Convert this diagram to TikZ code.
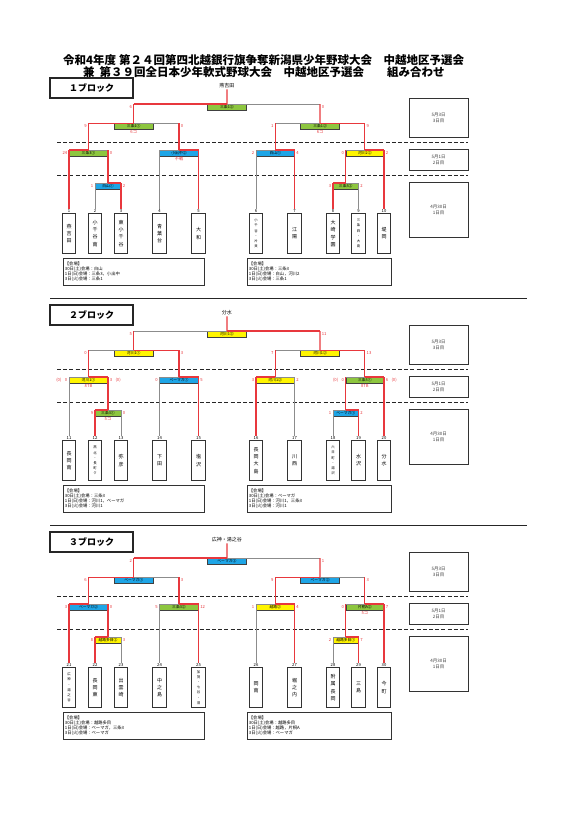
\documentclass[tikz,border=0pt]{standalone}
\usepackage{fontspec}
\setmainfont{Noto Sans CJK JP}
\definecolor{wred}{HTML}{E8383D}
\definecolor{lgray}{HTML}{8C8C8C}
\definecolor{gfill}{HTML}{8DC63F}
\definecolor{bfill}{HTML}{1EA5E6}
\definecolor{yfill}{HTML}{FFF500}
\tikzset{
 win/.style={draw=wred,line width=1.2pt},
 lose/.style={draw=lgray,line width=0.9pt},
 lbl/.style={draw=black!75,line width=0.35pt,inner sep=0pt,minimum height=5.6pt,font=\fontsize{3.8}{4}\selectfont},
 score/.style={text=wred,inner sep=0pt,font=\fontsize{4.2}{4.5}\selectfont},
 teambox/.style={draw=black!80,line width=0.8pt,minimum width=13.5pt,minimum height=40pt,inner sep=0pt,align=center,font=\fontsize{5}{7.2}\selectfont},
 teamsmall/.style={teambox,font=\fontsize{3.4}{5.2}\selectfont},
 num/.style={inner sep=0.3pt,font=\fontsize{4.2}{4.5}\selectfont},
 hdr/.style={draw=black!85,line width=1.1pt,minimum width=83pt,minimum height=20pt,inner sep=0pt,font=\bfseries\fontsize{9}{10}\selectfont},
 dashline/.style={draw=black!85,line width=1.1pt,dash pattern=on 4pt off 2.2pt},
 daybox/.style={draw=black!80,line width=0.8pt,minimum width=59pt,inner sep=0pt,align=center,text=black!75,font=\fontsize{4.5}{5.8}\selectfont},
 venue/.style={draw=black!80,line width=0.8pt,anchor=north west,minimum height=27pt,inner sep=1.5pt,align=left,font=\fontsize{4.3}{5}\selectfont},
 winnm/.style={inner sep=0.8pt,font=\fontsize{5}{6}\selectfont},
 titl/.style={inner sep=0pt,anchor=west,font=\bfseries\fontsize{11.5}{12}\selectfont},
 sepline/.style={draw=black!85,line width=1pt}
}
\newcommand{\tm}[5]{%
  \node[#5] (#1) at (#2,233.5) {#4};
  \node[num,anchor=south] (#1n) at (#2,213.2) {#3};}
\newcommand{\mt}[9]{%
  \node[lbl,fill=#8,minimum width=#9,anchor=north] (#1b) at ({(#2+#3)/2},#4) {#7};
  \coordinate (#1l) at (#2,#4);
  \coordinate (#1r) at (#3,#4);
  \coordinate (#1c) at ({(#2+#3)/2},#4);
  \draw[#5] (#1l) -- (#1c);
  \draw[#6] (#1c) -- (#1r);}
\newcommand{\scr}[3]{%
  \node[score,anchor=east] (#1sl) at ([xshift=-1.6pt,yshift=-2.9pt]#1l) {#2};
  \node[score,anchor=west] (#1sr) at ([xshift=1.6pt,yshift=-2.9pt]#1r) {#3};}
\newcommand{\pts}[1]{%
  \node[score,anchor=east] (#1pl) at ([xshift=-3pt]#1sl.west) {(0)};
  \node[score,anchor=west] (#1pr) at ([xshift=3pt]#1sr.east) {(0)};}
\newcommand{\nt}[2]{\node[score] (#1nt) at ([yshift=-9.2pt]#1c) {#2};}
\newcommand{\frm}[2]{%
  \node[hdr] (#1hdr) at (91.5,88) {#2};
  \coordinate (#1da) at (57,142.5); \coordinate (#1db) at (468,142.5);
  \coordinate (#1dc) at (57,175.5); \coordinate (#1dd) at (468,175.5);
  \draw[dashline] (#1da) -- (#1db);
  \draw[dashline] (#1dc) -- (#1dd);
  \node[daybox,minimum height=39pt] (#1dy3) at (438.5,117.5) {5月3日\\3日目};
  \node[daybox,minimum height=21pt] (#1dy2) at (438.5,159.5) {5月1日\\2日目};
  \node[daybox,minimum height=55pt] (#1dy1) at (438.5,209.5) {4月30日\\1日目};}
\begin{document}
\begin{tikzpicture}[x=1pt,y=-1pt]
\fill[white] (0,0) rectangle (579,819);
\path[use as bounding box] (0,0) rectangle (579,819);
\node[titl] (ttl1) at (63,60) {令和4年度\hspace{3pt}第２４回第四北越銀行旗争奪新潟県少年野球大会　中越地区予選会};
\node[titl] (ttl2) at (83,72) {兼\hspace{5pt}第３９回全日本少年軟式野球大会　中越地区予選会　　組み合わせ};
\coordinate (s1a) at (50,298); \coordinate (s1b) at (527,298);
\coordinate (s2a) at (50,525); \coordinate (s2b) at (527,525);
\draw[sepline] (s1a) -- (s1b);
\draw[sepline] (s2a) -- (s2b);
% ---------------- block 1
\begin{scope}
\frm{A}{１ブロック}
\tm{At1}{69}{1}{燕\\吉\\田}{teambox}
\tm{At2}{95}{2}{小\\千\\谷\\南}{teambox}
\tm{At3}{121}{3}{東\\小\\千\\谷}{teambox}
\tm{At4}{159.5}{4}{青\\葉\\台}{teambox}
\tm{At5}{198.5}{5}{大\\和}{teambox}
\tm{At6}{256}{6}{小\\千\\谷\\・\\片\\貝}{teamsmall}
\tm{At7}{294.5}{7}{江\\陽}{teambox}
\tm{At8}{333}{8}{大\\崎\\学\\園}{teambox}
\tm{At9}{358.5}{9}{三\\条\\四\\・\\大\\島}{teamsmall}
\tm{At10}{384}{10}{堤\\岡}{teambox}
\mt{A1a}{95}{121}{183}{lose}{win}{白山①}{bfill}{26pt}
\mt{A1b}{333}{358.5}{183}{win}{lose}{三条3②}{gfill}{25.5pt}
\mt{A2a}{69}{108}{150}{win}{lose}{三条3①}{gfill}{39pt}
\mt{A2b}{159.5}{198.5}{150}{lose}{win}{小出中②}{bfill}{39pt}
\mt{A2c}{256}{294.5}{150}{lose}{win}{白山①}{bfill}{38.5pt}
\mt{A2d}{345.75}{384}{150}{lose}{win}{河川2②}{yfill}{38.25pt}
\mt{AS1}{88.5}{179}{123.3}{win}{lose}{三条1①}{gfill}{39pt}
\mt{AS2}{275.25}{364.875}{123.3}{lose}{win}{三条1②}{gfill}{39pt}
\mt{AF}{133.75}{320.06}{104}{win}{lose}{三条1③}{gfill}{39pt}
\node[winnm] (Awin) at (226.9,86) {燕吉田};
\draw[lose] (At2n.north) -- (A1al);
\draw[lose] (At9n.north) -- (A1br);
\draw[lose] (At4n.north) -- (A2bl);
\draw[lose] (At6n.north) -- (A2cl);
\draw[win] (At3n.north) -- (A1ar);
\draw[win] (At8n.north) -- (A1bl);
\draw[win] (At1n.north) -- (A2al);
\draw[win] (At5n.north) -- (A2br);
\draw[win] (At7n.north) -- (A2cr);
\draw[win] (At10n.north) -- (A2dr);
\draw[win] (A1ac) -- (A2ar);
\draw[win] (A1bc) -- (A2dl);
\draw[win] (A2ac) -- (AS1l);
\draw[win] (A2bc) -- (AS1r);
\draw[win] (A2cc) -- (AS2l);
\draw[win] (A2dc) -- (AS2r);
\draw[win] (AS1c) -- (AFl);
\draw[win] (AS2c) -- (AFr);
\draw[win] (AFc) -- (Awin.south);
\scr{A1a}{1}{2} \scr{A1b}{3}{2} \scr{A2a}{24}{0} \scr{A2c}{2}{4} \scr{A2d}{0}{2}
\scr{AS1}{9}{0} \scr{AS2}{1}{9} \scr{AF}{6}{0}
\nt{A2b}{不戦} \nt{AS1}{6コ} \nt{AS2}{6コ}
\node[venue,text width=138pt] (Avl) at (63,258) {【会場】\\30日(土)会場：白山\\1日(日)会場：三条3，小出中\\3日(火)会場：三条1};
\node[venue,text width=141pt] (Avr) at (247,258) {【会場】\\30日(土)会場：三条3\\1日(日)会場：白山，河川2\\3日(火)会場：三条1};
\end{scope}
% ---------------- block 2
\begin{scope}[yshift=-227pt]
\frm{B}{２ブロック}
\tm{Bt11}{69}{11}{長\\岡\\南}{teambox}
\tm{Bt12}{95}{12}{燕\\北\\・\\長\\町\\ク}{teamsmall}
\tm{Bt13}{121}{13}{弥\\彦}{teambox}
\tm{Bt14}{159.5}{14}{下\\田}{teambox}
\tm{Bt15}{198.5}{15}{塩\\沢}{teambox}
\tm{Bt16}{256}{16}{長\\岡\\大\\島}{teambox}
\tm{Bt17}{294.5}{17}{川\\西}{teambox}
\tm{Bt18}{333}{18}{六\\日\\町\\・\\湯\\沢}{teamsmall}
\tm{Bt19}{358.5}{19}{水\\沢}{teambox}
\tm{Bt20}{384}{20}{分\\水}{teambox}
\mt{B1a}{95}{121}{183}{win}{lose}{三条3①}{gfill}{26pt}
\mt{B1b}{333}{358.5}{183}{lose}{win}{ベーマガ①}{bfill}{25.5pt}
\mt{B2a}{69}{108}{150}{lose}{win}{河川1①}{yfill}{39pt}
\mt{B2b}{159.5}{198.5}{150}{lose}{win}{ベーマガ①}{bfill}{39pt}
\mt{B2c}{256}{294.5}{150}{win}{lose}{河川1②}{yfill}{38.5pt}
\mt{B2d}{345.75}{384}{150}{lose}{win}{三条3①}{gfill}{38.25pt}
\mt{BS1}{88.5}{179}{123.3}{lose}{win}{河川1①}{yfill}{39pt}
\mt{BS2}{275.25}{364.875}{123.3}{lose}{win}{河川1②}{yfill}{39pt}
\mt{BF}{133.75}{320.06}{104}{lose}{win}{河川1③}{yfill}{39pt}
\node[winnm] (Bwin) at (226.9,86) {分水};
\draw[lose] (Bt11n.north) -- (B2al);
\draw[lose] (Bt13n.north) -- (B1ar);
\draw[lose] (Bt14n.north) -- (B2bl);
\draw[lose] (Bt17n.north) -- (B2cr);
\draw[lose] (Bt18n.north) -- (B1bl);
\draw[win] (Bt12n.north) -- (B1al);
\draw[win] (Bt15n.north) -- (B2br);
\draw[win] (Bt16n.north) -- (B2cl);
\draw[win] (Bt19n.north) -- (B1br);
\draw[win] (Bt20n.north) -- (B2dr);
\draw[win] (B1ac) -- (B2ar);
\draw[win] (B1bc) -- (B2dl);
\draw[win] (B2ac) -- (BS1l);
\draw[win] (B2bc) -- (BS1r);
\draw[win] (B2cc) -- (BS2l);
\draw[win] (B2dc) -- (BS2r);
\draw[win] (BS1c) -- (BFl);
\draw[win] (BS2c) -- (BFr);
\draw[win] (BFc) -- (Bwin.south);
\scr{B1a}{9}{0} \scr{B1b}{1}{2} \scr{B2a}{0}{3} \scr{B2b}{0}{5} \scr{B2c}{3}{2} \scr{B2d}{0}{6}
\pts{B2a} \pts{B2d}
\scr{BS1}{0}{3} \scr{BS2}{7}{13} \scr{BF}{5}{11}
\nt{B1a}{5コ} \nt{B2a}{8TB} \nt{B2d}{8TB}
\node[venue,text width=138pt] (Bvl) at (63,258) {【会場】\\30日(土)会場：三条3\\1日(日)会場：河川1，ベーマガ\\3日(火)会場：河川1};
\node[venue,text width=141pt] (Bvr) at (247,258) {【会場】\\30日(土)会場：ベーマガ\\1日(日)会場：河川1，三条3\\3日(火)会場：河川1};
\end{scope}
% ---------------- block 3
\begin{scope}[yshift=-454pt]
\frm{C}{３ブロック}
\tm{Ct21}{69}{21}{広\\神\\・\\湯\\之\\谷}{teamsmall}
\tm{Ct22}{95}{22}{長\\岡\\東}{teambox}
\tm{Ct23}{121}{23}{出\\雲\\崎}{teambox}
\tm{Ct24}{159.5}{24}{中\\之\\島}{teambox}
\tm{Ct25}{198.5}{25}{加\\茂\\・\\七\\谷\\・\\須}{teamsmall}
\tm{Ct26}{256}{26}{岡\\南}{teambox}
\tm{Ct27}{294.5}{27}{堀\\之\\内}{teambox}
\tm{Ct28}{333}{28}{附\\属\\長\\岡}{teambox}
\tm{Ct29}{358.5}{29}{三\\島}{teambox}
\tm{Ct30}{384}{30}{今\\町}{teambox}
\mt{C1a}{95}{121}{183}{win}{lose}{越路多目②}{yfill}{26pt}
\mt{C1b}{333}{358.5}{183}{lose}{win}{越路多目①}{yfill}{25.5pt}
\mt{C2a}{69}{108}{150}{win}{lose}{ベーマガ②}{bfill}{39pt}
\mt{C2b}{159.5}{198.5}{150}{lose}{win}{三条3②}{gfill}{39pt}
\mt{C2c}{256}{294.5}{150}{lose}{win}{越路②}{yfill}{38.5pt}
\mt{C2d}{345.75}{384}{150}{lose}{win}{片桐A②}{gfill}{38.25pt}
\mt{CS1}{88.5}{179}{123.3}{win}{lose}{ベーマガ①}{bfill}{39pt}
\mt{CS2}{275.25}{364.875}{123.3}{win}{lose}{ベーマガ②}{bfill}{39pt}
\mt{CF}{133.75}{320.06}{104}{win}{lose}{ベーマガ③}{bfill}{39pt}
\node[winnm] (Cwin) at (226.9,86) {広神・湯之谷};
\draw[lose] (Ct23n.north) -- (C1ar);
\draw[lose] (Ct24n.north) -- (C2bl);
\draw[lose] (Ct26n.north) -- (C2cl);
\draw[lose] (Ct28n.north) -- (C1bl);
\draw[win] (Ct21n.north) -- (C2al);
\draw[win] (Ct22n.north) -- (C1al);
\draw[win] (Ct25n.north) -- (C2br);
\draw[win] (Ct27n.north) -- (C2cr);
\draw[win] (Ct29n.north) -- (C1br);
\draw[win] (Ct30n.north) -- (C2dr);
\draw[win] (C1ac) -- (C2ar);
\draw[win] (C1bc) -- (C2dl);
\draw[win] (C2ac) -- (CS1l);
\draw[win] (C2bc) -- (CS1r);
\draw[win] (C2cc) -- (CS2l);
\draw[win] (C2dc) -- (CS2r);
\draw[win] (CS1c) -- (CFl);
\draw[win] (CS2c) -- (CFr);
\draw[win] (CFc) -- (Cwin.south);
\scr{C1a}{8}{3} \scr{C1b}{2}{7} \scr{C2a}{3}{0} \scr{C2b}{5}{12} \scr{C2c}{1}{4} \scr{C2d}{0}{7}
\scr{CS1}{6}{3} \scr{CS2}{9}{3} \scr{CF}{2}{1}
\nt{C2d}{5コ}
\node[venue,text width=138pt] (Cvl) at (63,258) {【会場】\\30日(土)会場：越路多目\\1日(日)会場：ベーマガ，三条3\\3日(火)会場：ベーマガ};
\node[venue,text width=141pt] (Cvr) at (247,258) {【会場】\\30日(土)会場：越路多目\\1日(日)会場：越路，片桐A\\3日(火)会場：ベーマガ};
\end{scope}
\end{tikzpicture}
\end{document}
